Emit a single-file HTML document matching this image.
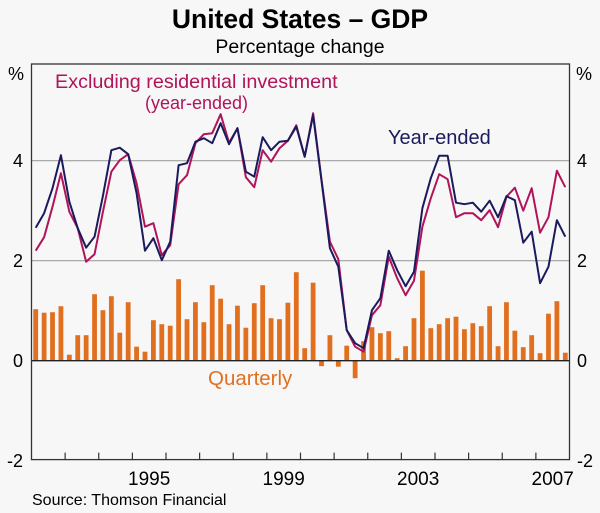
<!DOCTYPE html>
<html><head><meta charset="utf-8"><style>
html,body{margin:0;padding:0;background:#f7f7f7;}
svg{display:block;font-family:"Liberation Sans",Arial,sans-serif;}
</style></head><body>
<svg id="chart" width="600" height="513" viewBox="0 0 600 513">
<rect x="0" y="0" width="600" height="513" fill="#f7f7f7"/>
<text x="300" y="28" text-anchor="middle" font-size="26.5" font-weight="bold" fill="#000">United States – GDP</text>
<text x="300" y="53" text-anchor="middle" font-size="19.5" fill="#000">Percentage change</text>
<text x="16" y="80" text-anchor="middle" font-size="18">%</text>
<text x="584" y="80" text-anchor="middle" font-size="18">%</text>
<g id="grid"></g><g id="bars"></g><g id="lines"></g><g id="axes"></g>
<text x="55" y="88" font-size="19.8" fill="#b0145a">Excluding residential investment</text>
<text x="145" y="109" font-size="18" fill="#b0145a">(year-ended)</text>
<text x="388" y="144" font-size="20" fill="#1a1a5e">Year-ended</text>
<text x="208" y="385" font-size="20.5" fill="#e07020">Quarterly</text>
<text x="32" y="505" font-size="16" fill="#000">Source: Thomson Financial</text>
</svg>
<script>
const startYear = 1992;
const yTicks = [-2, 0, 2, 4];
const yearLabels = [1995, 1999, 2003, 2007];
const quarterly = [1.03,0.96,0.97,1.09,0.12,0.51,0.51,1.33,1.01,1.29,0.56,1.17,0.28,0.18,0.81,0.73,0.70,1.63,0.83,1.17,0.77,1.51,1.24,0.73,1.10,0.66,1.15,1.51,0.85,0.83,1.16,1.77,0.25,1.56,-0.11,0.51,-0.12,0.30,-0.35,0.39,0.67,0.55,0.59,0.05,0.29,0.85,1.80,0.65,0.73,0.85,0.88,0.63,0.75,0.69,1.09,0.29,1.17,0.60,0.27,0.51,0.15,0.94,1.19,0.16];
const yearEnded = [2.66,2.95,3.45,4.11,3.18,2.65,2.26,2.48,3.3,4.21,4.26,4.13,3.35,2.20,2.45,2.01,2.38,3.91,3.95,4.38,4.45,4.35,4.75,4.33,4.65,3.78,3.68,4.47,4.21,4.38,4.40,4.68,4.08,4.91,3.6,2.25,1.88,0.61,0.35,0.25,1.01,1.25,2.20,1.81,1.49,1.78,3.05,3.65,4.10,4.10,3.16,3.13,3.16,2.98,3.20,2.87,3.29,3.21,2.36,2.58,1.55,1.88,2.81,2.48];
const exclResi = [2.20,2.47,3.08,3.75,2.98,2.65,1.98,2.13,2.98,3.78,4.01,4.13,3.55,2.68,2.75,2.11,2.31,3.53,3.71,4.35,4.53,4.55,4.93,4.36,4.65,3.67,3.47,4.21,3.98,4.25,4.40,4.71,4.08,4.95,3.62,2.38,2.03,0.61,0.28,0.18,0.91,1.11,2.08,1.65,1.31,1.60,2.68,3.25,3.73,3.63,2.87,2.95,2.95,2.81,3.01,2.67,3.28,3.46,3.00,3.45,2.56,2.87,3.80,3.47];

const NS='http://www.w3.org/2000/svg';
const L=31.5,R=569.5,T=64,B=459.6;
const nQ=64, qw=(R-L)/nQ;
const xq=i=>L+qw*(i+0.5);
const xYearStart=yr=>L+(yr-startYear)*4*qw;
const y=v=>360.7-v*50;
function mk(tag,attrs,parent){const e=document.createElementNS(NS,tag);for(const k in attrs)e.setAttribute(k,attrs[k]);parent.appendChild(e);return e;}
const grid=document.getElementById('grid'),bars=document.getElementById('bars'),lines=document.getElementById('lines'),axes=document.getElementById('axes');

yTicks.forEach(v=>{
  if(v>0){const g=mk('line',{x1:L,x2:R,y1:y(v),y2:y(v),stroke:'#a0a0a0','stroke-width':1.2},grid);
  
  }
  const t1=mk('text',{x:23,y:y(v)+6.5,'text-anchor':'end','font-size':18},axes);t1.textContent=v;
  
  
  const t2=mk('text',{x:577,y:y(v)+6.5,'text-anchor':'start','font-size':18},axes);t2.textContent=v;
  
  
});

quarterly.forEach((v,i)=>{
  const top=Math.min(y(v),y(0)),h=Math.abs(y(v)-y(0));
  const b=mk('rect',{x:xq(i)-2.4,y:top,width:4.8,height:h,fill:'#e07020'},bars);
  
  
});

function line(data,color,name){
  const p=mk('polyline',{points:data.map((v,i)=>xq(i)+','+y(v)).join(' '),fill:'none',stroke:color,'stroke-width':2,'stroke-linejoin':'round'},lines);
  
  
}
line(exclResi,'#b0145a','excl-resi-line');
line(yearEnded,'#1a1a5e','year-ended-line');

const z=mk('line',{x1:L,x2:R,y1:y(0),y2:y(0),stroke:'#222','stroke-width':1.3},axes);


const fr=mk('rect',{x:L,y:T,width:R-L,height:B-T,fill:'none',stroke:'#333','stroke-width':1.3},axes);


for(let yr=startYear+1;yr<startYear+16;yr++){
  const tk=mk('line',{x1:xYearStart(yr),x2:xYearStart(yr),y1:B,y2:B-7,stroke:'#333','stroke-width':1.2},axes);
  
  
}
yearLabels.forEach(yr=>{
  const t=mk('text',{x:xYearStart(yr)+2*qw,y:485,'text-anchor':'middle','font-size':19},axes);t.textContent=yr;
  
  
});
</script>
</body></html>
